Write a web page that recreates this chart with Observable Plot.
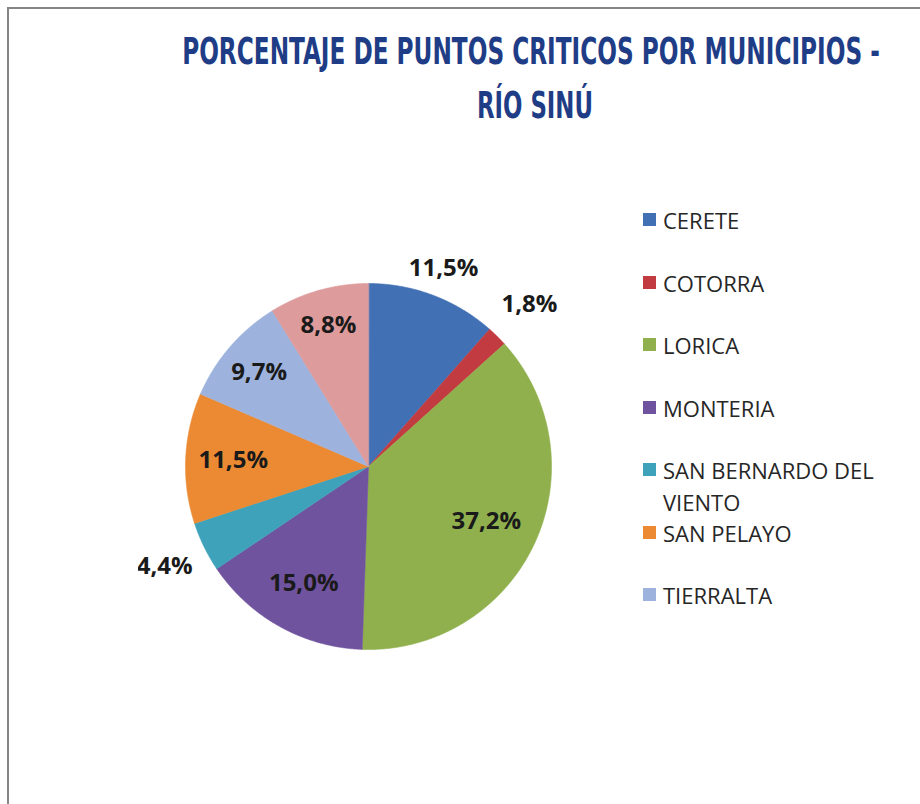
<!DOCTYPE html>
<html>
<head>
<meta charset="utf-8">
<script src="https://cdn.jsdelivr.net/npm/d3@7"></script>
<script src="https://cdn.jsdelivr.net/npm/@observablehq/plot@0.6"></script>
<style>
  html, body { margin: 0; padding: 0; background: #fff; }
  #page { position: relative; width: 920px; height: 804px; overflow: hidden; background: #fff; }
  #frame { position: absolute; left: 7px; top: 7px; width: 1000px; height: 1000px;
           border-left: 2px solid #858585; border-top: 2px solid #858585; }
  #title { position: absolute; left: 0; top: 0; overflow: visible; }
  #pie { position: absolute; left: 138px; top: 236px; }
  #legend { position: absolute; left: 0; top: 0; font-family: "Open Sans", sans-serif; font-size: 22px; color: #262626; }
  .item { position: absolute; left: 643px; display: flex; align-items: flex-start; }
  .sw { width: 13px; height: 13px; margin-top: 9px; margin-right: 7px; flex: none; }
  .lab { width: 235px; line-height: 32px; }
</style>
</head>
<body>
<div id="page">
  <div id="frame"></div>
  <svg id="title" width="920" height="140"></svg>
  <div id="pie"></div>
  <div id="legend"></div>
</div>
<script>
// ---- data ----
const titulo = ["PORCENTAJE DE PUNTOS CRITICOS POR MUNICIPIOS -", "RÍO SINÚ"];
const municipios = ["CERETE", "COTORRA", "LORICA", "MONTERIA", "SAN BERNARDO DEL VIENTO", "SAN PELAYO", "TIERRALTA", "VALENCIA"];
const porcentajes = [11.5, 1.8, 37.2, 15.0, 4.4, 11.5, 9.7, 8.8];
const etiquetas = ["11,5%", "1,8%", "37,2%", "15,0%", "4,4%", "11,5%", "9,7%", "8,8%"];
const colores = ["#4170b4", "#c23b40", "#8fb04d", "#70539e", "#3ea2ba", "#eb8a33", "#9db3dd", "#de9b9b"];
const leyendaVisible = 7; // the last entry is clipped in the original legend

// ---- title (narrow, tall lettering) ----
const tsvg = d3.select("#title");
const tspec = [{cx: 531, base: 64, w: 698}, {cx: 535, base: 118, w: 116}];
titulo.forEach((t, i) => {
  const s = tspec[i];
  const g = tsvg.append("g");
  const txt = g.append("text")
    .attr("font-family", "DejaVu Sans Condensed, DejaVu Sans")
    .attr("font-weight", "bold")
    .attr("font-size", 20)
    .attr("fill", "#1f3d86")
    .attr("text-anchor", "middle")
    .text(t);
  const nat = txt.node().getComputedTextLength();
  const fs = 20 * s.w / nat;
  txt.attr("font-size", fs);
  const ky = 27 / (0.729 * fs);
  g.attr("transform", `translate(${s.cx},${s.base}) scale(1,${ky})`);
});

// ---- label placement (style, relative to radius) ----
const labelRadius = [1.16, 1.25, 0.71, 0.73, 1.24, 0.74, 0.79, 0.80];

const R = 183;          // pie radius in px
const size = 460;       // svg size
const H = (size / 2) / R;

const arcs = d3.pie().sort(null).value(d => d)(porcentajes);

const pts = [];
arcs.forEach((a, i) => {
  const name = municipios[i];
  pts.push({name, x: 0, y: 0});
  const n = Math.max(2, Math.ceil((a.endAngle - a.startAngle) / 0.005));
  for (let k = 0; k <= n; k++) {
    const t = a.startAngle + (a.endAngle - a.startAngle) * k / n;
    pts.push({name, x: Math.sin(t), y: Math.cos(t)});
  }
});

const labels = arcs.map((a, i) => {
  const m = (a.startAngle + a.endAngle) / 2;
  const r = labelRadius[i];
  return {text: etiquetas[i], x: r * Math.sin(m), y: r * Math.cos(m)};
});

const chart = Plot.plot({
  width: size,
  height: size,
  margin: 0,
  x: {domain: [-H, H], axis: null},
  y: {domain: [-H, H], axis: null},
  color: {domain: municipios, range: colores},
  marks: [
    Plot.line(pts, {x: "x", y: "y", z: "name", fill: "name", stroke: "name", strokeWidth: 0.6, curve: "linear-closed"}),
    Plot.text(labels, {x: "x", y: "y", text: "text", fontSize: 24, fontWeight: "bold",
      fontFamily: "Open Sans, sans-serif", fill: "#1a1a1a", textAnchor: "middle"})
  ]
});
document.getElementById("pie").appendChild(chart);

// ---- legend ----
const leg = document.getElementById("legend");
municipios.slice(0, leyendaVisible).forEach((m, i) => {
  const it = document.createElement("div");
  it.className = "item";
  it.style.top = (204 + i * 62.5) + "px";
  const sw = document.createElement("div");
  sw.className = "sw";
  sw.style.background = colores[i];
  const lb = document.createElement("div");
  lb.className = "lab";
  lb.textContent = m;
  it.appendChild(sw); it.appendChild(lb);
  leg.appendChild(it);
});
</script>
</body>
</html>
